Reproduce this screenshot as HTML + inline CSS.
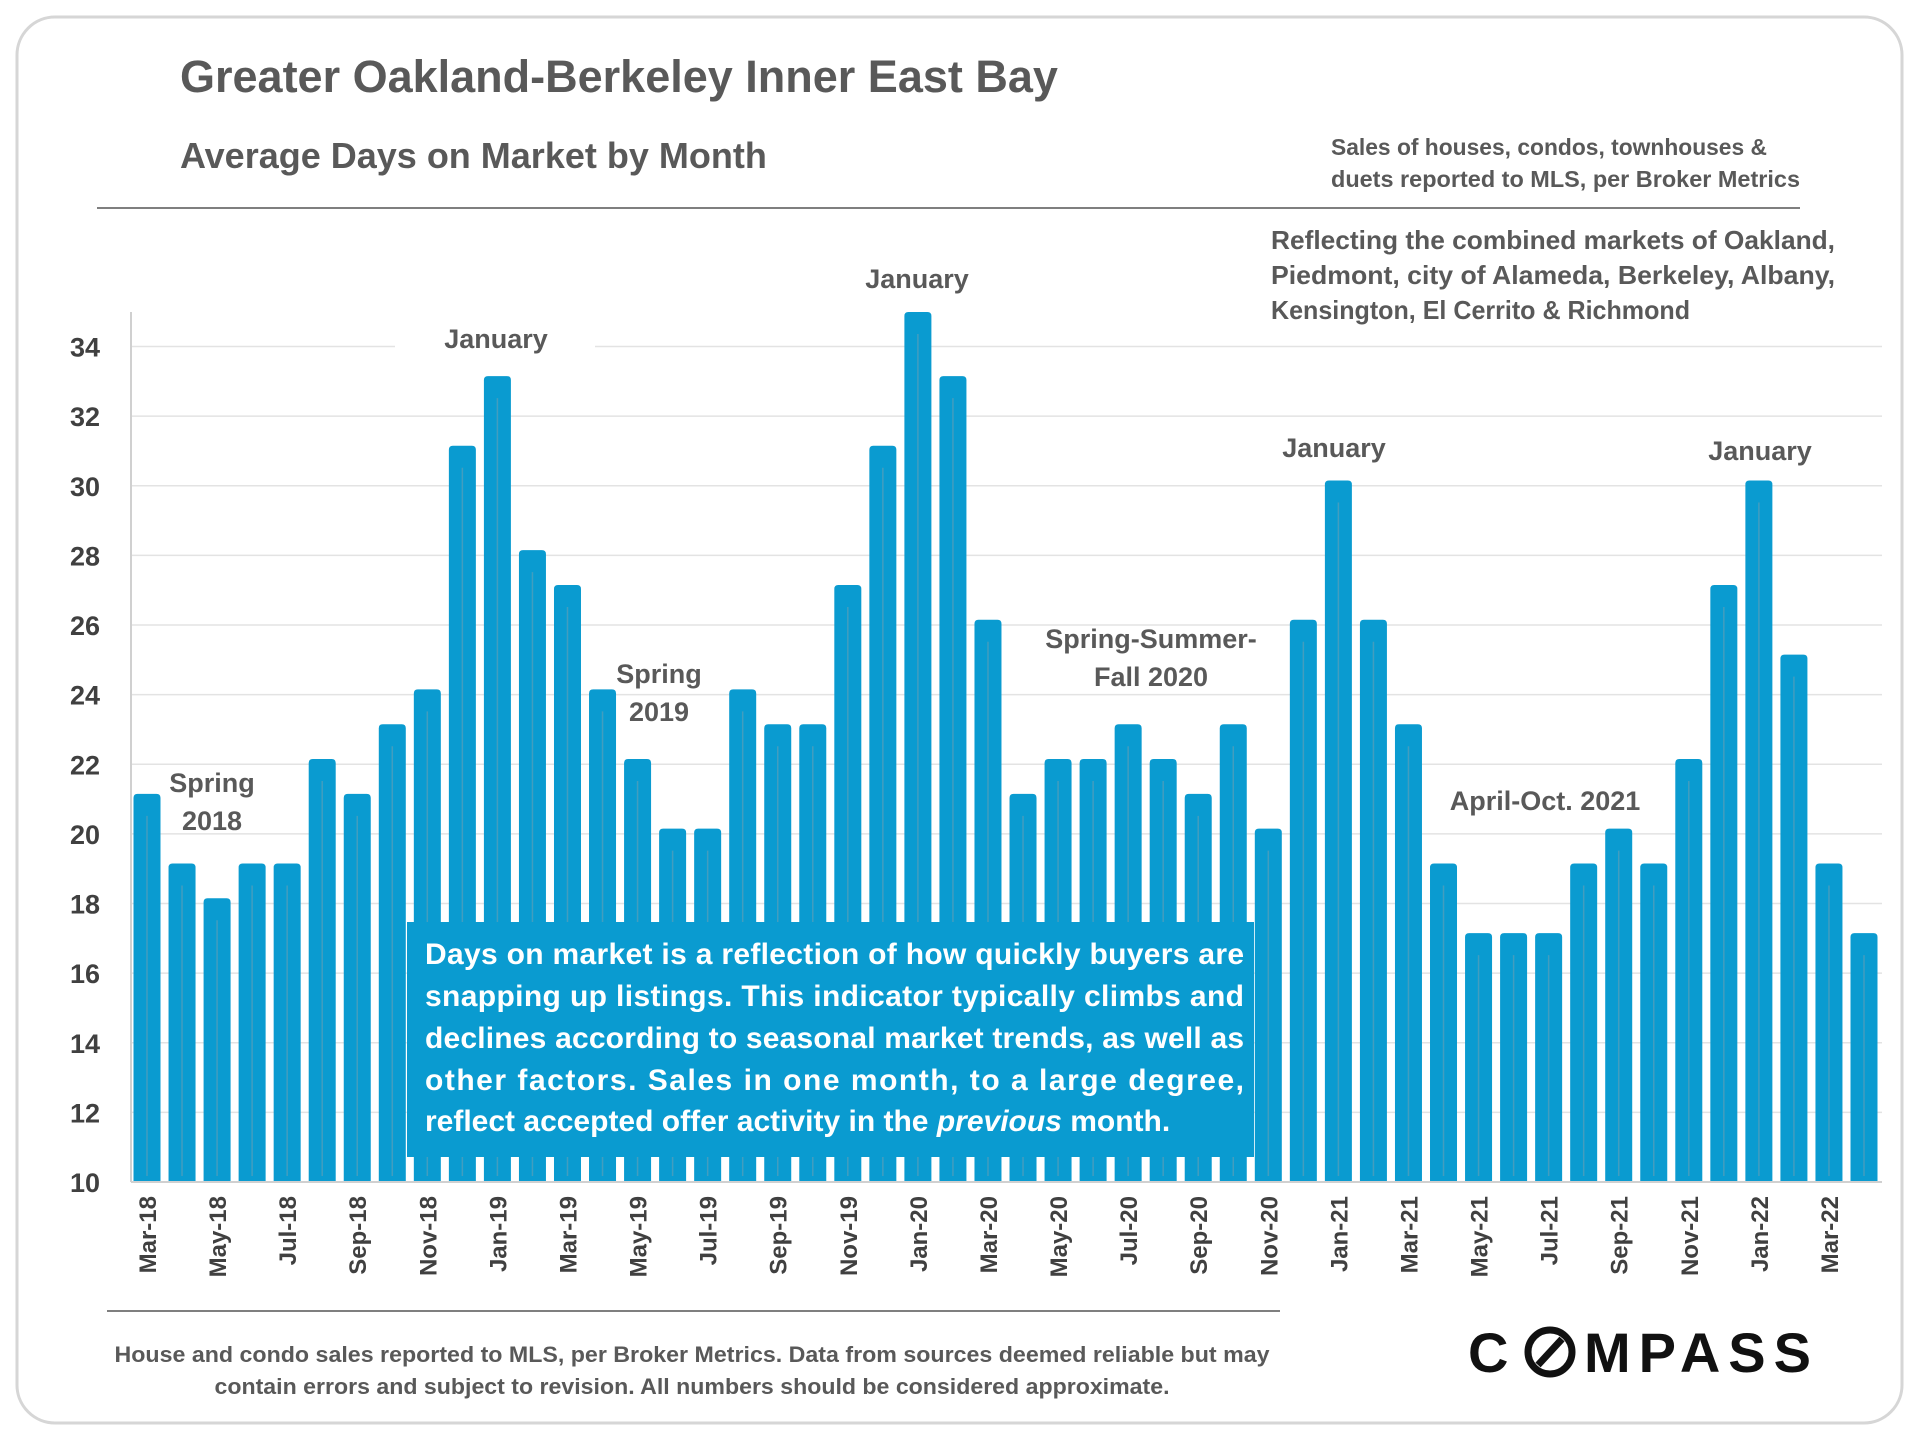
<!DOCTYPE html>
<html><head><meta charset="utf-8">
<style>
html,body{margin:0;padding:0;background:#fff;}
svg{display:block;font-family:"Liberation Sans",sans-serif;}
</style></head>
<body>
<svg id="chart" width="1920" height="1440" viewBox="0 0 1920 1440" xmlns="http://www.w3.org/2000/svg">
<rect x="17" y="17" width="1885" height="1406" rx="38" fill="#fff" stroke="#d6d6d6" stroke-width="3"/>
<text x="180" y="92" font-size="45" font-weight="bold" fill="#595959">Greater Oakland-Berkeley Inner East Bay</text>
<text x="180" y="168" font-size="36" font-weight="bold" fill="#595959">Average Days on Market by Month</text>
<line x1="97" y1="208" x2="1800" y2="208" stroke="#7f7f7f" stroke-width="2"/>
<g font-size="23" font-weight="bold" fill="#595959">
<text x="1331" y="155" textLength="436" lengthAdjust="spacingAndGlyphs">Sales of houses, condos, townhouses &amp;</text>
<text x="1331" y="187" textLength="469" lengthAdjust="spacingAndGlyphs">duets reported to MLS, per Broker Metrics</text>
</g>
<g font-size="26" font-weight="bold" fill="#595959">
<text x="1271" y="249" textLength="564" lengthAdjust="spacingAndGlyphs">Reflecting the combined markets of Oakland,</text>
<text x="1271" y="284" textLength="564" lengthAdjust="spacingAndGlyphs">Piedmont, city of Alameda, Berkeley, Albany,</text>
<text x="1271" y="319" textLength="419" lengthAdjust="spacingAndGlyphs">Kensington, El Cerrito &amp; Richmond</text>
</g>
<g id="grid"></g>
<g id="yticks"></g>
<line x1="131" y1="312" x2="131" y2="1182" stroke="#d0d0d0" stroke-width="2"/>
<g id="bars"></g>
<line x1="131" y1="1182" x2="1882" y2="1182" stroke="#d0d0d0" stroke-width="2"/>
<g id="xticks"></g>
<g font-size="27" font-weight="bold" fill="#595959" text-anchor="middle">
<rect x="395" y="315" width="200" height="40" fill="#fff"/>
<text x="496" y="348">January</text>
<text x="917" y="288">January</text>
<text x="1334" y="457">January</text>
<text x="1760" y="460">January</text>
<text x="212" y="792">Spring</text><text x="212" y="830">2018</text>
<text x="659" y="683">Spring</text><text x="659" y="721">2019</text>
<text x="1151" y="648">Spring-Summer-</text><text x="1151" y="686">Fall 2020</text>
<text x="1545" y="810">April-Oct.  2021</text>
</g>
<g>
<rect x="407" y="922" width="847" height="235" fill="#0a9bd0"/>
<g font-size="30" font-weight="bold" fill="#fff">
<text x="425" y="964" textLength="819" lengthAdjust="spacing">Days on market is a reflection of how quickly buyers are</text>
<text x="425" y="1006" textLength="819" lengthAdjust="spacing">snapping up listings. This indicator typically climbs and</text>
<text x="425" y="1048" textLength="819" lengthAdjust="spacing">declines according to seasonal market trends, as well as</text>
<text x="425" y="1090" textLength="819" lengthAdjust="spacing">other factors. Sales in one month, to a large degree,</text>
<text x="425" y="1131">reflect accepted offer activity in the <tspan font-style="italic">previous</tspan> month.</text>
</g>
</g>
<line x1="107" y1="1311" x2="1280" y2="1311" stroke="#7f7f7f" stroke-width="2"/>
<g font-size="22" font-weight="bold" fill="#595959" text-anchor="middle">
<text x="692" y="1362" textLength="1155" lengthAdjust="spacingAndGlyphs">House and condo sales reported to MLS, per Broker Metrics. Data from sources deemed reliable but may</text>
<text x="692" y="1394" textLength="955" lengthAdjust="spacingAndGlyphs">contain errors and subject to revision. All numbers should be considered approximate.</text>
</g>
<g fill="#111" font-weight="bold">
<text x="1468" y="1372" font-size="56" letter-spacing="9">C</text>
<circle cx="1550" cy="1352" r="22" fill="none" stroke="#111" stroke-width="7"/>
<line x1="1538" y1="1365" x2="1562" y2="1339" stroke="#111" stroke-width="7"/>
<text x="1584" y="1372" font-size="56" letter-spacing="8">MPASS</text>
</g>
</svg>
<script>
const months = ["Mar-18","Apr-18","May-18","Jun-18","Jul-18","Aug-18","Sep-18","Oct-18","Nov-18","Dec-18","Jan-19","Feb-19","Mar-19","Apr-19","May-19","Jun-19","Jul-19","Aug-19","Sep-19","Oct-19","Nov-19","Dec-19","Jan-20","Feb-20","Mar-20","Apr-20","May-20","Jun-20","Jul-20","Aug-20","Sep-20","Oct-20","Nov-20","Dec-20","Jan-21","Feb-21","Mar-21","Apr-21","May-21","Jun-21","Jul-21","Aug-21","Sep-21","Oct-21","Nov-21","Dec-21","Jan-22","Feb-22","Mar-22","Apr-22"];
const daysOnMarket = [21,19,18,19,19,22,21,23,24,31,33,28,27,24,22,20,20,24,23,23,27,31,36,33,26,21,22,22,23,22,21,23,20,26,30,26,23,19,17,17,17,19,20,19,22,27,30,25,19,17];
const yTicks = [10,12,14,16,18,20,22,24,26,28,30,32,34];
const NS="http://www.w3.org/2000/svg";
const yMin=10, yMax=34, yTop=346.5, yBot=1182, plotTop=312;
function yScale(v){return yBot-(v-yMin)*(yBot-yTop)/(yMax-yMin);}
const x0=147, step=(1864-147)/(months.length-1);
function xScale(i){return x0+i*step;}
function mk(tag,attrs,parent){const e=document.createElementNS(NS,tag);for(const k in attrs)e.setAttribute(k,attrs[k]);parent.appendChild(e);return e;}
const grid=document.getElementById('grid'), yt=document.getElementById('yticks'), bars=document.getElementById('bars'), xt=document.getElementById('xticks');
yTicks.forEach(v=>{
  const y=yScale(v);
  if(v>yMin){const l=mk('line',{x1:131,x2:1882,y1:y,y2:y,stroke:'#e3e3e3','stroke-width':1.5},grid);
  
  }
  const t=mk('text',{x:100,y:y+10,'font-size':27,'font-weight':'bold',fill:'#404040','text-anchor':'end'},yt);
  t.textContent=v;
  
  
});
const bw=27;
daysOnMarket.forEach((v,i)=>{
  const cx=xScale(i);
  const top=Math.max(yScale(v+0.15),plotTop);
  const p=mk('path',{d:`M${cx-bw/2},${yBot} L${cx-bw/2},${top+4} Q${cx-bw/2},${top} ${cx-bw/2+4},${top} L${cx+bw/2-4},${top} Q${cx+bw/2},${top} ${cx+bw/2},${top+4} L${cx+bw/2},${yBot} Z`,fill:'#0a9bd0'},bars);
  
  
  const c=mk('line',{x1:cx,x2:cx,y1:top+22,y2:yBot-6,stroke:'#5a9fb8','stroke-width':1.5,opacity:0.7},bars);
  
  
  if(i%2===0){
    const t=mk('text',{x:0,y:0,'font-size':24,'font-weight':'bold',fill:'#404040','text-anchor':'end',transform:`translate(${cx+9},1196) rotate(-90)`},xt);
    t.textContent=months[i];
    
    
  }
});
</script>
</body></html>
